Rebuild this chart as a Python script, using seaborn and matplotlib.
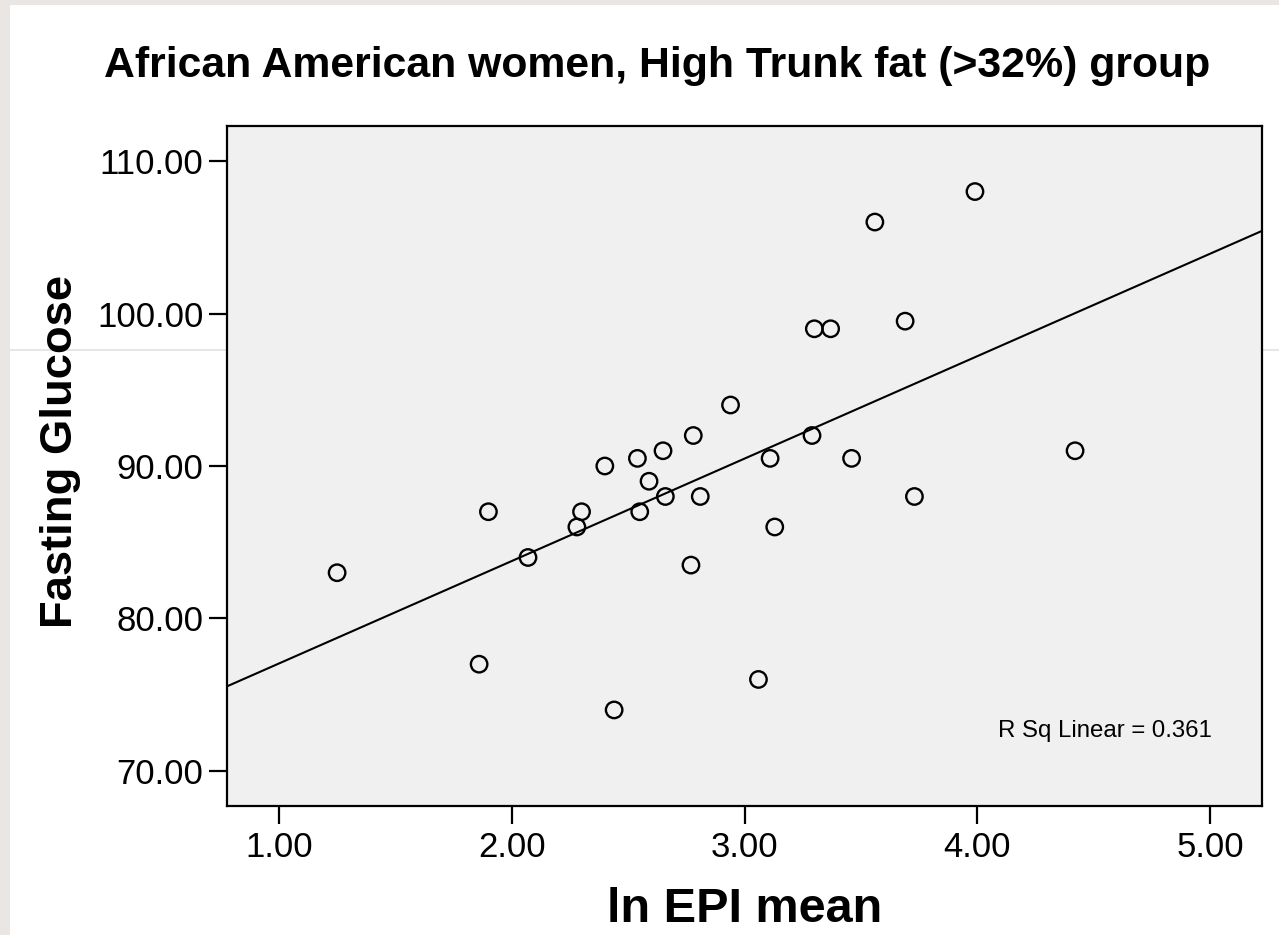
import matplotlib
matplotlib.use("Agg")
import matplotlib.pyplot as plt
from matplotlib.patches import Rectangle
from matplotlib.lines import Line2D
from matplotlib.ticker import FormatStrFormatter
import seaborn as sns
import pandas as pd

# ln EPI mean vs fasting glucose
ln_epi = [1.25, 1.86, 1.90, 2.07, 2.28, 2.30, 2.40, 2.44, 2.54, 2.59,
          2.55, 2.65, 2.66, 2.78, 2.81, 2.77, 2.94, 3.06, 3.11, 3.13,
          3.29, 3.46, 3.30, 3.37, 3.56, 3.69, 3.99, 4.42, 3.73]
glucose = [83.0, 77.0, 87.0, 84.0, 86.0, 87.0, 90.0, 74.0, 90.5, 89.0,
           87.0, 91.0, 88.0, 92.0, 88.0, 83.5, 94.0, 76.0, 90.5, 86.0,
           92.0, 90.5, 99.0, 99.0, 106.0, 99.5, 108.0, 91.0, 88.0]

x_ticks = [1.0, 2.0, 3.0, 4.0, 5.0]
y_ticks = [70.0, 80.0, 90.0, 100.0, 110.0]

title_text = "African American women, High Trunk fat (>32%) group"
x_label = "ln EPI mean"
y_label = "Fasting Glucose"
fit_note = "R Sq Linear = 0.361"

df = pd.DataFrame({"ln_epi": ln_epi, "glucose": glucose})

sns.set_style("ticks")
plt.rcParams["font.family"] = ["Liberation Sans", "DejaVu Sans"]

W, H = 1279, 935
fig = plt.figure(figsize=(W / 100, H / 100), dpi=100)
fig.patch.set_facecolor("#E9E6E3")
fig.patches.append(Rectangle((10 / W, 0), 1 - 10 / W, 1 - 5 / H,
                             transform=fig.transFigure, facecolor="white",
                             edgecolor="none", zorder=-2))
fig.lines.append(Line2D([10 / W, 1], [1 - 349.5 / H] * 2, transform=fig.transFigure,
                        color="#E2E2E2", lw=1.2, zorder=-1))

ax = fig.add_axes([227 / W, 1 - 806 / H, (1262 - 227) / W, (806 - 126) / H])
ax.set_facecolor("#F0F0F0")
ax.set_xlim(0.777, 5.223)
ax.set_ylim(67.7, 112.3)

sns.regplot(data=df, x="ln_epi", y="glucose", ax=ax, ci=None, truncate=False,
            color="black",
            scatter_kws=dict(s=140, facecolors="none", edgecolors="black",
                             linewidths=1.7, alpha=1, zorder=3),
            line_kws=dict(color="black", lw=1.5, zorder=2))

ax.set_xticks(x_ticks)
ax.set_yticks(y_ticks)
ax.xaxis.set_major_formatter(FormatStrFormatter("%.2f"))
ax.yaxis.set_major_formatter(FormatStrFormatter("%.2f"))
ax.tick_params(axis="both", length=13, width=1.6, color="black",
               labelsize=25, labelcolor="black")
ax.tick_params(axis="x", pad=5)
ax.tick_params(axis="y", pad=4)
for sp in ax.spines.values():
    sp.set_visible(True)
    sp.set_color("black")
    sp.set_linewidth(1.6)

ax.set_xlabel(x_label, fontsize=35, fontweight="bold", color="black")
ax.set_ylabel(y_label, fontsize=32.7, fontweight="bold", color="black")
ax.xaxis.set_label_coords(0.5, (806 - 922) / 680, transform=ax.transAxes)
ax.xaxis.label.set_va("baseline")
ax.yaxis.set_label_coords((60 - 227) / 1035, (806 - 452) / 680, transform=ax.transAxes)
ax.yaxis.label.set_va("center")

ax.text(0.9517, 0.111, fit_note, transform=ax.transAxes, ha="right",
        va="center", fontsize=17.3, color="black")

fig.text(657.5 / W, 1 - 77.3 / H, title_text, ha="center", va="baseline",
         fontsize=30.8, fontweight="bold", color="black")

fig.savefig("out.png", dpi=100, facecolor=fig.get_facecolor())
